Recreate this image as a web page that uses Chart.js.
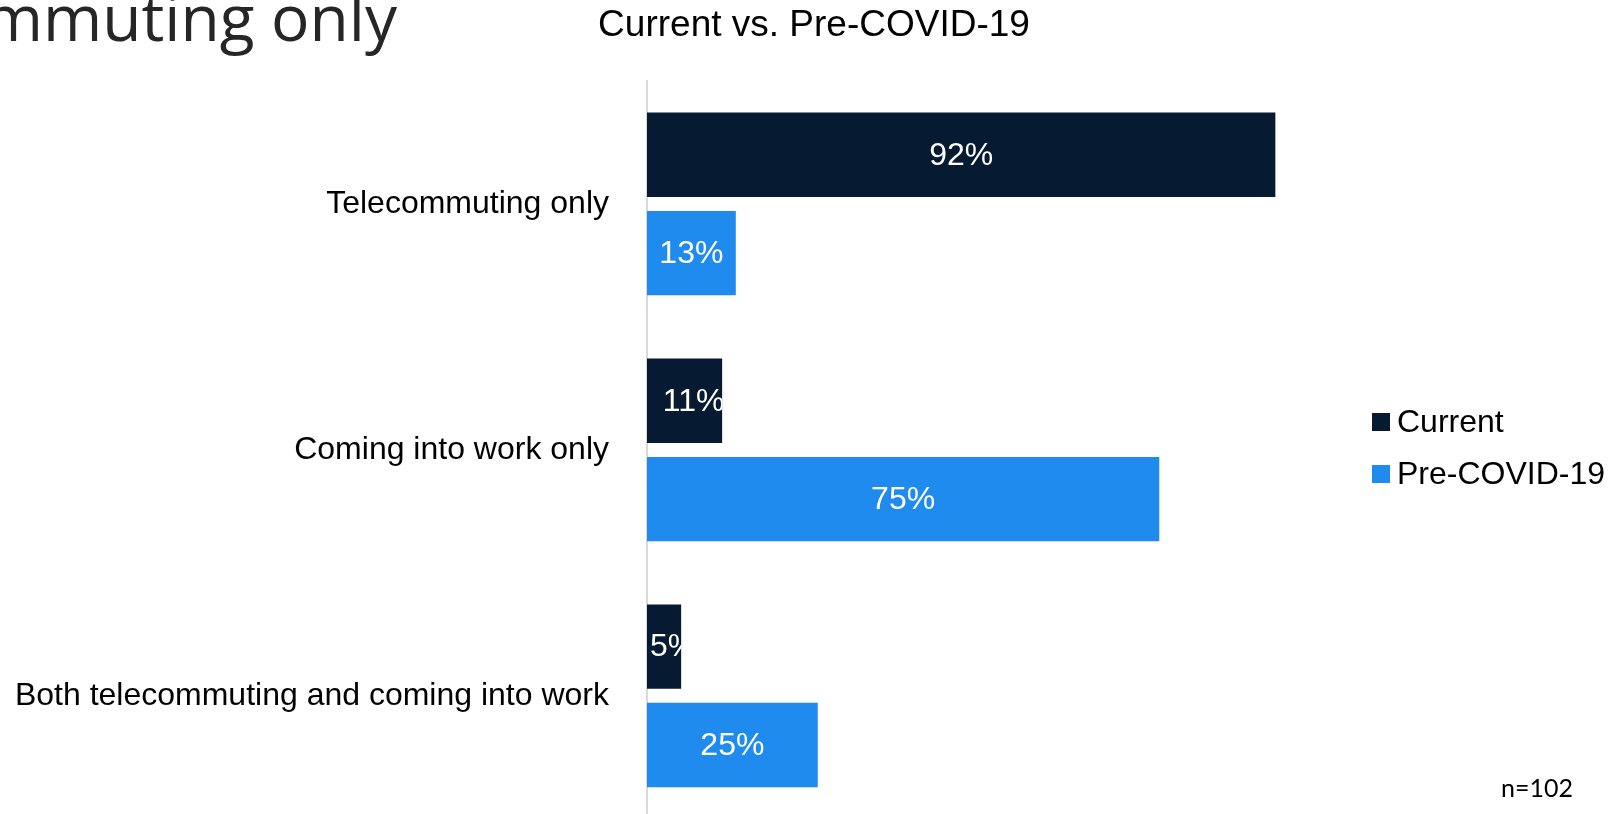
<!DOCTYPE html>
<html>
<head>
<meta charset="utf-8">
<script src="https://cdn.jsdelivr.net/npm/chart.js@4.4.1/dist/chart.umd.min.js"></script>
<style>
  html, body { margin: 0; padding: 0; background: #fff; overflow: hidden; }
  #wrap { position: relative; width: 1608px; height: 876px; }
</style>
</head>
<body>
<div id="wrap"><canvas id="chart" width="1608" height="876"></canvas></div>
<script>
// === Data ===
var categories = ['Telecommuting only', 'Coming into work only', 'Both telecommuting and coming into work'];
var seriesNames = ['Current', 'Pre-COVID-19'];
var currentValues = [92, 11, 5];
var preCovidValues = [13, 75, 25];
var seriesColors = ['#061b32', '#1f8bee'];

var slideTitle = 'Telecommuting only';
var chartTitle = 'Current vs. Pre-COVID-19';
var sampleNote = 'n=102';

// === Text + legend overlay ===
var overlayPlugin = {
  id: 'overlay',
  afterDraw: function(chart) {
    var ctx = chart.ctx;
    ctx.save();

    // slide title (cut off at the left edge)
    ctx.fillStyle = '#262626';
    ctx.font = '64px "Open Sans"';
    ctx.textAlign = 'right';
    ctx.textBaseline = 'alphabetic';
    ctx.fillText(slideTitle, 397, 41);

    // chart title
    ctx.fillStyle = '#000';
    ctx.font = '37px "Liberation Sans", Arial';
    ctx.textAlign = 'center';
    ctx.textBaseline = 'middle';
    ctx.fillText(chartTitle, 814, 26);

    // legend
    ctx.font = '32px "Liberation Sans", Arial';
    ctx.textAlign = 'left';
    var legendY = [422, 474];
    chart.data.datasets.forEach(function(ds, i) {
      ctx.fillStyle = ds.backgroundColor;
      ctx.fillRect(1372, legendY[i] - 9, 18, 18);
      ctx.fillStyle = '#000';
      ctx.fillText(ds.label, 1397, legendY[i] + 1);
    });

    // sample size
    ctx.font = '25px Lato';
    ctx.textBaseline = 'alphabetic';
    ctx.fillText(sampleNote, 1501, 797);
    ctx.restore();
  }
};

// === Value labels inside bars (clipped to the bar) ===
var barLabelPlugin = {
  id: 'barLabels',
  afterDatasetsDraw: function(chart) {
    var ctx = chart.ctx;
    ctx.save();
    ctx.font = '32px "Liberation Sans", Arial';
    ctx.fillStyle = '#fff';
    ctx.textBaseline = 'middle';
    ctx.textAlign = 'left';
    chart.data.datasets.forEach(function(ds, di) {
      var meta = chart.getDatasetMeta(di);
      meta.data.forEach(function(bar, i) {
        var text = ds.data[i] + '%';
        var tw = ctx.measureText(text).width;
        var left = bar.base;
        var w = bar.x - bar.base;
        var tx = left + (w - tw) / 2;
        // narrow bars: label pushed right and cut at the bar end
        if (tw + 20 > w) tx += 9;
        ctx.save();
        ctx.beginPath();
        ctx.rect(left, bar.y - bar.height / 2, w, bar.height);
        ctx.clip();
        ctx.fillText(text, tx, bar.y + 1);
        ctx.restore();
      });
    });
    ctx.restore();
  }
};

var ctx = document.getElementById('chart').getContext('2d');
new Chart(ctx, {
  type: 'bar',
  data: {
    labels: categories,
    datasets: [{
      label: seriesNames[0],
      data: currentValues,
      backgroundColor: seriesColors[0],
      borderWidth: 0
    }, {
      label: seriesNames[1],
      data: preCovidValues,
      backgroundColor: seriesColors[1],
      borderWidth: 0
    }]
  },
  options: {
    indexAxis: 'y',
    responsive: false,
    animation: false,
    barPercentage: 0.858,
    categoryPercentage: 0.80,
    layout: {
      padding: { left: 0, right: 278, top: 81, bottom: 5 }
    },
    plugins: {
      legend: { display: false },
      title: { display: false },
      tooltip: { enabled: false }
    },
    scales: {
      x: {
        display: false,
        min: 0,
        max: 100
      },
      y: {
        grid: { display: false, drawTicks: false },
        border: { display: true, color: '#d9d9d9', width: 2 },
        ticks: {
          color: '#000',
          padding: 38,
          font: { family: '"Liberation Sans", Arial', size: 32 }
        },
        afterFit: function(scale) { scale.width = 647; }
      }
    }
  },
  plugins: [barLabelPlugin, overlayPlugin]
});
</script>
</body>
</html>
